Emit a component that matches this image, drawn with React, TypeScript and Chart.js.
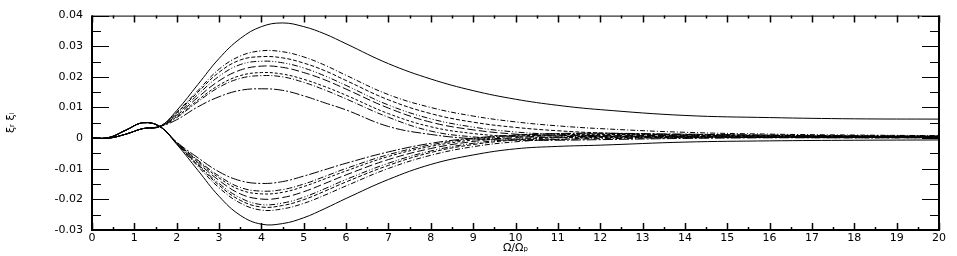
import React, { useEffect, useRef } from "react";
import { Chart, registerables } from "chart.js";

Chart.register(...registerables);

// x positions (Ω/Ωp) at which values were read
const omega = [0, 0.4, 0.8, 1.2, 1.6, 2, 2.5, 3, 3.5, 4, 4.5, 5, 5.5, 6, 7, 8, 9, 10, 11, 12, 14, 16, 18, 20];

// upper family (monotonic start)
const up0 = [0, 0, 0.0013, 0.0031, 0.0038, 0.009, 0.0175, 0.026, 0.0325, 0.0364, 0.0376, 0.0364, 0.034, 0.0308, 0.0243, 0.0193, 0.0155, 0.0127, 0.0107, 0.0093, 0.0074, 0.0067, 0.0063, 0.0062];
const up1 = [0, 0, 0.0013, 0.0031, 0.0038, 0.0085, 0.0155, 0.0225, 0.0268, 0.0285, 0.0282, 0.0265, 0.0238, 0.0205, 0.0142, 0.01, 0.0072, 0.0053, 0.004, 0.0031, 0.0019, 0.0013, 0.001, 0.0008];
const up2 = [0, 0, 0.0013, 0.0031, 0.0038, 0.0082, 0.015, 0.0215, 0.0255, 0.0266, 0.0262, 0.0245, 0.022, 0.0188, 0.0125, 0.008, 0.0052, 0.0035, 0.0024, 0.0017, 0.001, 0.0007, 0.0006, 0.0005];
const up3 = [0, 0, 0.0013, 0.0031, 0.0038, 0.0078, 0.0142, 0.0202, 0.024, 0.0251, 0.0246, 0.0229, 0.0203, 0.0172, 0.0108, 0.0063, 0.0036, 0.002, 0.0012, 0.0008, 0.0005, 0.0004, 0.0004, 0.0004];
const up4 = [0, 0, 0.0013, 0.0031, 0.0038, 0.0074, 0.0133, 0.0187, 0.0222, 0.0235, 0.0231, 0.0214, 0.019, 0.016, 0.0098, 0.0052, 0.0027, 0.0013, 0.0007, 0.0005, 0.0004, 0.0004, 0.0004, 0.0004];
const up5 = [0, 0, 0.0013, 0.0031, 0.0038, 0.007, 0.0124, 0.0173, 0.0204, 0.0214, 0.0209, 0.0192, 0.0168, 0.014, 0.008, 0.0037, 0.0015, 0.0005, 0.0002, 0.0002, 0.0003, 0.0003, 0.0003, 0.0003];
const up6 = [0, 0, 0.0013, 0.0031, 0.0038, 0.0067, 0.0119, 0.0166, 0.0195, 0.0204, 0.02, 0.0182, 0.0157, 0.0128, 0.0068, 0.0023, 0.0004, -0.0003, -0.0004, -0.0002, 0.0001, 0.0002, 0.0002, 0.0002];
const up7 = [0, 0, 0.0013, 0.0031, 0.0038, 0.006, 0.0102, 0.0135, 0.0156, 0.0161, 0.0156, 0.0138, 0.0115, 0.0092, 0.0038, 0.0012, -0.0002, -0.0007, -0.0007, -0.0005, -0.0001, 0.0001, 0.0001, 0.0001];

// lower family (bump start)
const lo0 = [0, 0.0002, 0.0026, 0.005, 0.0038, -0.002, -0.0105, -0.019, -0.0252, -0.0281, -0.0279, -0.026, -0.023, -0.0197, -0.0135, -0.0086, -0.0055, -0.0035, -0.0027, -0.0023, -0.0013, -0.0009, -0.0007, -0.0006];
const lo1 = [0, 0.0002, 0.0026, 0.005, 0.0038, -0.0019, -0.0092, -0.0162, -0.0212, -0.0235, -0.0231, -0.0213, -0.0186, -0.0156, -0.0099, -0.0056, -0.0028, -0.0012, -0.0004, 0, 0.0002, 0.0002, 0.0001, 0.0001];
const lo2 = [0, 0.0002, 0.0026, 0.005, 0.0038, -0.0018, -0.0088, -0.0154, -0.0203, -0.0225, -0.022, -0.0201, -0.0173, -0.0143, -0.0089, -0.0047, -0.0021, -0.0006, 0.0001, 0.0004, 0.0004, 0.0003, 0.0002, 0.0002];
const lo3 = [0, 0.0002, 0.0026, 0.005, 0.0038, -0.0017, -0.0085, -0.0148, -0.0195, -0.0217, -0.0212, -0.0193, -0.0165, -0.0135, -0.0082, -0.0042, -0.0017, -0.0003, 0.0004, 0.0006, 0.0006, 0.0004, 0.0003, 0.0003];
const lo4 = [0, 0.0002, 0.0026, 0.005, 0.0038, -0.0016, -0.008, -0.0138, -0.0182, -0.0199, -0.0194, -0.0175, -0.0148, -0.012, -0.007, -0.0034, -0.0011, 0.0002, 0.0008, 0.0009, 0.0008, 0.0006, 0.0005, 0.0004];
const lo5 = [0, 0.0002, 0.0026, 0.005, 0.0038, -0.0015, -0.0075, -0.013, -0.0169, -0.0182, -0.0177, -0.0158, -0.0133, -0.0107, -0.006, -0.0027, -0.0006, 0.0006, 0.0011, 0.0012, 0.001, 0.0008, 0.0006, 0.0005];
const lo6 = [0, 0.0002, 0.0026, 0.005, 0.0038, -0.0014, -0.0072, -0.0124, -0.0161, -0.0173, -0.0168, -0.015, -0.0125, -0.0099, -0.0054, -0.0022, -0.0002, 0.0009, 0.0014, 0.0014, 0.0012, 0.0009, 0.0007, 0.0006];
const lo7 = [0, 0.0002, 0.0026, 0.005, 0.0038, -0.0013, -0.0064, -0.011, -0.0139, -0.0148, -0.0142, -0.0124, -0.0103, -0.0082, -0.0045, -0.0017, 0, 0.001, 0.0015, 0.0016, 0.0013, 0.001, 0.0008, 0.0007];

const upperSeries = [up0, up1, up2, up3, up4, up5, up6, up7];
const lowerSeries = [lo0, lo1, lo2, lo3, lo4, lo5, lo6, lo7];
const dashStyles: number[][] = [[], [5, 2, 1, 2], [4, 2], [6, 2, 1, 2, 1, 2], [8, 3], [3, 2], [6, 2, 1, 2], [10, 2, 2, 2]];

const xTitle = "Ω/Ωₚ";
const yTitle = "ξᵣ ξᵢ";

const framePlugin = {
  id: "frameTicks",
  afterDraw(chart: any) {
    const { ctx, chartArea, scales } = chart;
    const { left, right, top, bottom } = chartArea;
    const xs = scales.x;
    const ys = scales.y;
    ctx.save();
    ctx.strokeStyle = "#000";
    ctx.lineWidth = 1.5;
    for (let i = 0; i <= 40; i++) {
      const v = i * 0.5;
      const px = Math.round(xs.getPixelForValue(v)) + 0.5;
      const len = i % 2 === 0 ? 7 : 3;
      ctx.beginPath();
      ctx.moveTo(px, top);
      ctx.lineTo(px, top + len);
      ctx.moveTo(px, bottom);
      ctx.lineTo(px, bottom - len);
      ctx.stroke();
    }
    ctx.lineWidth = 1;
    for (let i = 0; i <= 14; i++) {
      const v = -0.03 + i * 0.005;
      const py = Math.round(ys.getPixelForValue(v)) + 0.5;
      const len = i % 2 === 0 ? 17 : 9;
      ctx.beginPath();
      ctx.moveTo(left, py);
      ctx.lineTo(left + len, py);
      ctx.moveTo(right, py);
      ctx.lineTo(right - len, py);
      ctx.stroke();
    }
    ctx.lineWidth = 1;
    ctx.beginPath();
    ctx.moveTo(left, top + 0.5);
    ctx.lineTo(right, top + 0.5);
    ctx.stroke();
    ctx.lineWidth = 2;
    ctx.beginPath();
    ctx.moveTo(left, top);
    ctx.lineTo(left, bottom);
    ctx.lineTo(right, bottom);
    ctx.lineTo(right, top);
    ctx.stroke();
    ctx.restore();
  },
};

export default function App() {
  const ref = useRef<HTMLCanvasElement | null>(null);

  useEffect(() => {
    if (!ref.current) return;
    const mk = (arr: number[], idx: number) => ({
      data: omega.map((x, i) => ({ x, y: arr[i] })),
      borderColor: "#000",
      borderWidth: 1,
      borderDash: dashStyles[idx],
      pointRadius: 0,
      fill: false,
      tension: 0.4,
    });
    const datasets = [
      ...upperSeries.map((s, i) => mk(s, i)),
      ...lowerSeries.map((s, i) => mk(s, i)),
    ];
    const chart = new Chart(ref.current, {
      type: "line",
      data: { datasets },
      options: {
        animation: false,
        responsive: false,
        maintainAspectRatio: false,
        layout: { padding: { top: 5, right: 18, left: 0, bottom: 0 } },
        plugins: { legend: { display: false }, tooltip: { enabled: false } },
        scales: {
          x: {
            type: "linear",
            min: 0,
            max: 20,
            border: { display: false },
            grid: { display: false, drawTicks: false },
            ticks: {
              stepSize: 1,
              padding: 2,
              color: "#000",
              maxRotation: 0,
              autoSkip: false,
              font: { family: "DejaVu Sans", size: 11 },
              callback: (v: any) => String(v),
            },
            title: {
              display: true,
              text: xTitle,
              color: "#000",
              font: { family: "DejaVu Sans", size: 11 },
              padding: { top: 0, bottom: 1 },
            },
            afterFit: (s: any) => {
              s.height = 26;
            },
          },
          y: {
            type: "linear",
            min: -0.03,
            max: 0.04,
            border: { display: false },
            grid: { display: false, drawTicks: false },
            ticks: {
              stepSize: 0.01,
              padding: 9,
              color: "#000",
              autoSkip: false,
              font: { family: "DejaVu Sans", size: 11 },
              callback: (v: any) => String(Math.round(Number(v) * 100) / 100),
            },
            title: {
              display: true,
              text: yTitle,
              color: "#000",
              font: { family: "DejaVu Sans", size: 11 },
              padding: { top: 5, bottom: 0 },
            },
            afterFit: (s: any) => {
              s.width = 92;
            },
          },
        },
      },
      plugins: [framePlugin],
    });
    return () => chart.destroy();
  }, []);

  return (
    <div style={{ position: "absolute", left: 0, top: 0, width: 957, height: 256, background: "#fff" }}>
      <canvas ref={ref} width={957} height={256} style={{ display: "block" }} />
    </div>
  );
}
